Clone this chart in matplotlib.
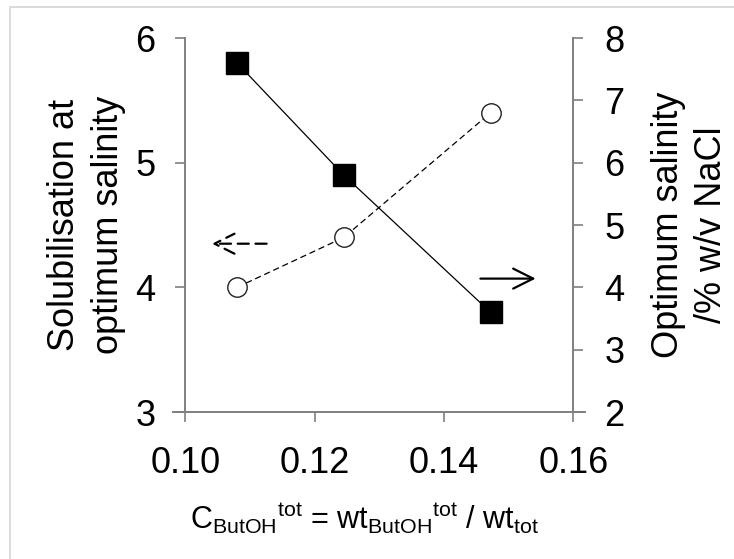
import matplotlib.pyplot as plt
from matplotlib.patches import Rectangle

plt.rcParams['font.family'] = ['Liberation Sans', 'DejaVu Sans']
plt.rcParams['mathtext.fontset'] = 'custom'
plt.rcParams['mathtext.rm'] = 'Liberation Sans'
plt.rcParams['mathtext.it'] = 'Liberation Sans'

# data
butoh = [0.108, 0.1245, 0.1472]
solubilisation = [4.0, 4.4, 5.4]
salinity = [7.6, 5.8, 3.6]
xticks = [0.10, 0.12, 0.14, 0.16]
left_ticks = [3, 4, 5, 6]
right_ticks = [2, 3, 4, 5, 6, 7, 8]

spine_col = '#7f7f7f'
fs = 26

fig = plt.figure(figsize=(7.34, 5.59), dpi=100)
fig.patches.append(Rectangle((10 / 734, -0.05), 1.2, 1 - 7 / 559 + 0.05,
                             transform=fig.transFigure, fill=False,
                             edgecolor='#d4d4d4', lw=1.2))
ax = fig.add_axes([173 / 734, 1 - 412 / 559, (585 - 173) / 734, (412 - 38) / 559])
ax2 = ax.twinx()

ax.plot(butoh, solubilisation, ls=(0, (5, 3)), color='black', lw=0.9,
        marker='o', ms=14, mfc='white', mec='#222222', mew=1.0, zorder=3)
ax2.plot(butoh, salinity, ls='-', color='black', lw=0.9,
         marker='s', ms=15.5, mfc='black', mec='black', zorder=3)

ax.set_xlim(0.0981, 0.1618)
ax.set_ylim(3, 6)
ax2.set_ylim(2, 8)

for a in (ax, ax2):
    a.spines['top'].set_visible(False)
    for s in a.spines.values():
        s.set_color(spine_col)
        s.set_linewidth(1.4)
ax.spines['right'].set_visible(False)
ax2.spines['left'].set_visible(False)
ax2.spines['bottom'].set_visible(False)
ax.spines['left'].set_position(('data', 0.10))
ax2.spines['right'].set_position(('data', 0.16))

ax.set_xticks(xticks)
ax.set_xticklabels(['%.2f' % t for t in xticks])
ax.set_yticks(left_ticks)
ax2.set_yticks(right_ticks)
ax.tick_params(axis='both', direction='out', length=7.5, width=1.2, color=spine_col,
               labelsize=fs, pad=14)
ax.tick_params(axis='x', pad=17)
ax2.tick_params(axis='y', direction='out', length=7.5, width=1.2, color=spine_col,
                labelsize=fs, pad=15)

ax.set_ylabel('Solubilisation at\noptimum salinity', fontsize=fs, labelpad=7,
              linespacing=1.3)
ax2.set_ylabel('Optimum salinity\n/% w/v NaCl', fontsize=fs, labelpad=19,
               linespacing=1.3, rotation=90)
ax.set_xlabel(r'C$_\mathrm{ButOH}$$^\mathrm{tot}$ = wt$_\mathrm{ButOH}$$^\mathrm{tot}$ / wt$_\mathrm{tot}$',
              fontsize=22)
ax.xaxis.set_label_coords(0.465, -0.235)

# direction arrows
ax.annotate('', xy=(0.1037, 4.35), xytext=(0.1130, 4.35),
            arrowprops=dict(arrowstyle='->', ls=(0, (5, 3)), color='black', lw=1.6,
                            mutation_scale=36))
ax.annotate('', xy=(0.1546, 4.07), xytext=(0.1452, 4.07),
            arrowprops=dict(arrowstyle='->', color='black', lw=1.6, mutation_scale=36))

fig.savefig('out.png', dpi=100)
